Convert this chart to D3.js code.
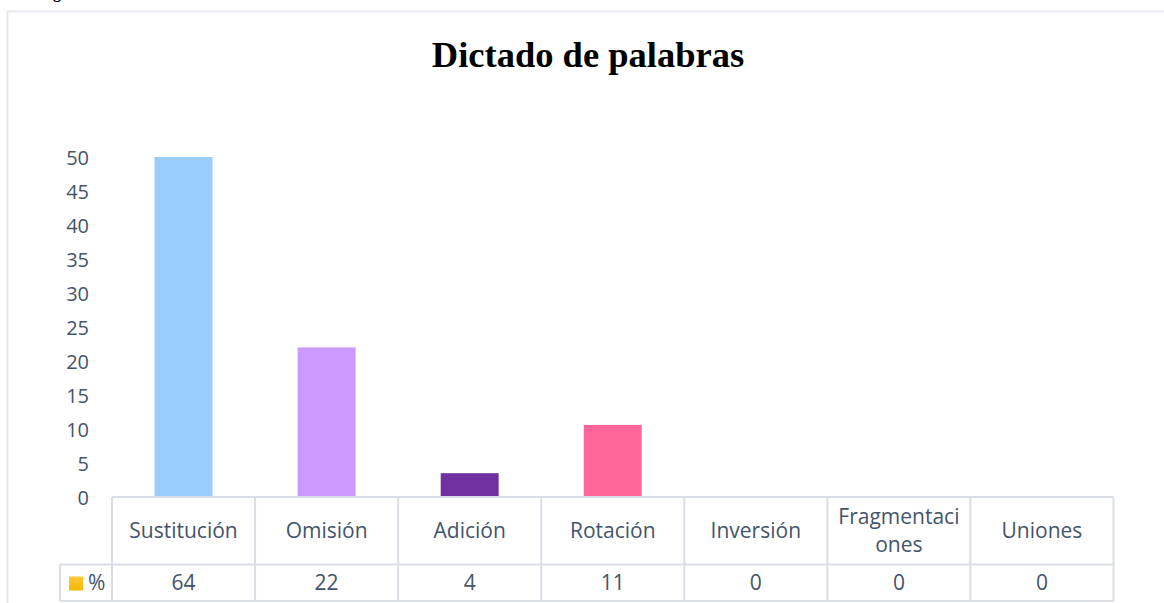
<!DOCTYPE html>
<html><head><meta charset="utf-8">
<script src="https://cdn.jsdelivr.net/npm/d3@7/dist/d3.min.js"></script>
<style>html,body{margin:0;padding:0;background:#fff;overflow:hidden}</style>
</head><body>
<svg id="c" width="1164" height="603"></svg>
<script>
const title = "Dictado de palabras";
const categories = ["Sustitución","Omisión","Adición","Rotación","Inversión","Fragmentaciones","Uniones"];
const headerLines = [["Sustitución"],["Omisión"],["Adición"],["Rotación"],["Inversión"],["Fragmentaci","ones"],["Uniones"]];
const barValues = [64, 22, 3.5, 10.6, 0, 0, 0];
const tableValues = ["64","22","4","11","0","0","0"];
const barColors = ["#99CCFF","#CC99FF","#7030A0","#FF6699","#4472C4","#ED7D31","#A5A5A5"];
const yTicks = [0,5,10,15,20,25,30,35,40,45,50];
const seriesName = "%";

const svg = d3.select("#c");
const font = "'Open Sans', Lato, sans-serif";
const fsTick = 20;
const fs = 21;
const txt = "#44546A";
const lineCol = "#D9DEE6";

// outer chart border
svg.append("rect").attr("x",7.5).attr("y",11.5).attr("width",1200).attr("height",700)
  .attr("fill","none").attr("stroke","#E1E4EA").attr("stroke-width",1.5);

// cut-off caption above
svg.append("text").attr("x",57).attr("y",-2).attr("text-anchor","middle")
  .attr("font-family","'Liberation Serif', serif").attr("font-weight","bold").attr("font-size",16)
  .text("g");

svg.append("text").attr("x",588).attr("y",67).attr("text-anchor","middle")
  .attr("font-family","'Liberation Serif', 'Times New Roman', serif").attr("font-weight","bold")
  .attr("font-size",36.5).attr("fill","#000").text(title);

const x = d3.scaleBand().domain(categories).range([112,1113.5]).paddingInner(0).paddingOuter(0);
const y = d3.scaleLinear().domain([0,50]).range([497,157]);

svg.append("defs").append("clipPath").attr("id","plot")
  .append("rect").attr("x",100).attr("y",y(50)).attr("width",1020).attr("height",y(0)-y(50));

const bw = x.bandwidth()*0.405;
svg.append("g").attr("clip-path","url(#plot)").selectAll("rect").data(categories).join("rect")
  .attr("x",d=>x(d)+x.bandwidth()/2-bw/2)
  .attr("y",(d,i)=>y(barValues[i]))
  .attr("width",bw)
  .attr("height",(d,i)=>y(0)-y(barValues[i]))
  .attr("fill",(d,i)=>barColors[i]);

// y axis labels
const yAxis = d3.axisLeft(y).tickValues(yTicks).tickSize(0).tickPadding(0);
const ga = svg.append("g").attr("transform","translate(89,0)").call(yAxis);
ga.select(".domain").remove();
ga.selectAll("text").attr("font-family",font).attr("font-size",fsTick).attr("fill",txt).attr("dy","0.35em");

// data table
const tb = svg.append("g").attr("fill","none").attr("stroke",lineCol).attr("stroke-width",2);
const tTop = y(0), tMid = 564.5, tBot = 601;
tb.append("line").attr("x1",112).attr("x2",1113.5).attr("y1",tTop).attr("y2",tTop);
tb.append("line").attr("x1",60).attr("x2",1113.5).attr("y1",tMid).attr("y2",tMid);
tb.append("line").attr("x1",60).attr("x2",1113.5).attr("y1",tBot).attr("y2",tBot);
tb.append("line").attr("x1",60).attr("x2",60).attr("y1",tMid).attr("y2",tBot);
const bounds = categories.map(c=>x(c)).concat([x.range()[1]]);
tb.selectAll(".v").data(bounds).join("line").attr("class","v")
  .attr("x1",d=>d).attr("x2",d=>d).attr("y1",tTop).attr("y2",tBot);

const hd = svg.append("g").attr("font-family",font).attr("font-size",fs).attr("fill",txt).attr("text-anchor","middle");
headerLines.forEach((ls,i)=>{
  const cx = x(categories[i])+x.bandwidth()/2;
  const cy = (tTop+tMid)/2;
  const lh = 28;
  ls.forEach((l,j)=>{
    hd.append("text").attr("x",cx).attr("y",cy+(j-(ls.length-1)/2)*lh).attr("dy","0.35em").text(l);
  });
  hd.append("text").attr("x",cx).attr("y",(tMid+tBot)/2).attr("dy","0.35em").text(tableValues[i]);
});

// legend key
const lg = svg.append("defs").append("linearGradient").attr("id","gold").attr("x1",0).attr("y1",0).attr("x2",0).attr("y2",1);
lg.append("stop").attr("offset","0%").attr("stop-color","#FFC83A");
lg.append("stop").attr("offset","100%").attr("stop-color","#F2B800");
svg.append("rect").attr("x",69).attr("y",576.5).attr("width",14).attr("height",14).attr("fill","url(#gold)");
svg.append("text").attr("x",88).attr("y",(tMid+tBot)/2).attr("dy","0.35em")
  .attr("font-family",font).attr("font-size",fs).attr("fill",txt).text(seriesName);
</script>
</body></html>
